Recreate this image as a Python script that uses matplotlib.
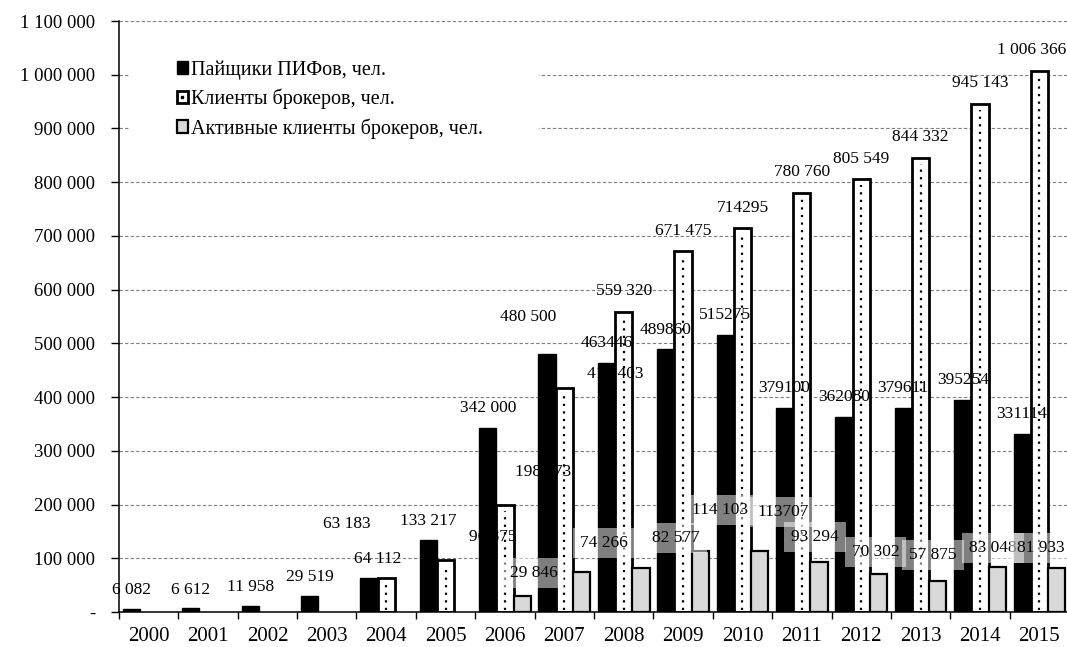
import numpy as np
import matplotlib
matplotlib.use("Agg")
import matplotlib.pyplot as plt
from matplotlib.ticker import FuncFormatter, MultipleLocator
from matplotlib.lines import Line2D
from matplotlib.patches import Rectangle
from matplotlib.legend_handler import HandlerTuple

plt.rcParams['font.family'] = ['Liberation Serif', 'DejaVu Serif']

# data
years = [str(y) for y in range(2000, 2016)]
pif_holders = [6082, 6612, 11958, 29519, 63183, 133217, 342000, 480500,
               463446, 489860, 515275, 379100, 362080, 379611, 395254, 331114]
brok_years_start = 4   # broker clients from 2004
brok_clients = [64112, 96875, 198873, 417403, 559320, 671475, 714295,
                780760, 805549, 844332, 945143, 1006366]
brok_labels = ["64 112", "96 875", "198 873", "417 403", "559 320", "671 475",
               "714295", "780 760", "805 549", "844 332", "945 143", "1 006 366"]
active_years_start = 6  # active clients from 2006
active_clients = [29846, 74266, 82577, 114103, 113707, 93294, 70302, 57875,
                  83048, 81933]
active_labels = ["29 846", "74 266", "82 577", "114 103", "113707", "93 294",
                 "70 302", "57 875", "83 048", "81 933"]
pif_labels = ["6 082", "6 612", "11 958", "29 519", "63 183", "133 217",
              "342 000", "480 500", "463446", "489860", "515275", "379100",
              "362080", "379611", "395254", "331114"]

# label placement tweaks (as in the source chart): dx in categories, dy in people
pif_dx = [0, 0, 0, 0, -0.37, 0, 0, -0.32, 0, 0, 0, 0, 0, 0, 0, 0]
pif_dy = [35e3, 35e3, 34e3, 36e3, 101e3, 36e3, 38e3, 69e3, 38e3, 35e3, 38e3,
          38e3, 38e3, 38e3, 37e3, 38e3]
brok_dx = [-0.15, 0.79, 0.64, 0.86, 0, 0, 0, 0, 0, 0, 0, -0.13]
brok_dy = [35e3, 42e3, 62e3, 26e3, 39e3, 38e3, 38e3, 38e3, 38e3, 39e3, 40e3, 39e3]
act_dx = [0.19, 0.37, 0.59, 0.34, 0.39, -0.07, -0.05, -0.08, -0.07, -0.27]
act_dy = [43e3, 54e3, 55e3, 76e3, 72e3, 47e3, 42e3, 48e3, 36e3, 37e3]

fig = plt.figure(figsize=(10.67, 6.47), dpi=100)
ax = fig.add_axes([0.1115, 0.0541, 0.8904, 0.9134])

x = np.arange(len(years))
w = 0.29
xb = x[brok_years_start:]
xa = x[active_years_start:]

b1 = ax.bar(x - w, pif_holders, w, color='black', edgecolor='black',
            linewidth=1, zorder=2)
b2 = ax.bar(xb, brok_clients, w, color='white', edgecolor='black',
            linewidth=2, zorder=2)
ax.vlines(xb, 4000, np.array(brok_clients) - 10000, colors='black',
          linestyles=(0, (1, 2.4)), linewidth=1.6, zorder=2.5)
b3 = ax.bar(xa + w, active_clients, w, color='#d9d9d9', edgecolor='black',
            linewidth=1.6, zorder=2)

fs = 12.5
for i, v in enumerate(pif_holders):
    ax.text(x[i] - w + pif_dx[i], v + pif_dy[i], pif_labels[i], ha='center',
            va='center', fontsize=fs, zorder=4)
for i, v in enumerate(brok_clients):
    ax.text(xb[i] + brok_dx[i], v + brok_dy[i], brok_labels[i], ha='center',
            va='center', fontsize=fs, zorder=4)
for i, v in enumerate(active_clients):
    ax.text(xa[i] + w + act_dx[i], v + act_dy[i], active_labels[i], ha='center',
            va='center', fontsize=fs, zorder=4,
            bbox=dict(boxstyle='square,pad=0.4', facecolor='white',
                      edgecolor='none', alpha=0.5))

ax.set_xlim(-0.5, 15.5)
ax.set_ylim(0, 1100000)
ax.yaxis.set_major_locator(MultipleLocator(100000))
ax.yaxis.set_major_formatter(FuncFormatter(
    lambda v, p: '-' if v == 0 else f'{int(v):,}'.replace(',', ' ')))
ax.yaxis.grid(True, linestyle=(0, (3, 2)), color='#7f7f7f', linewidth=0.8,
              zorder=0)
ax.set_axisbelow(True)
ax.tick_params(axis='y', length=6, width=1, pad=11, labelsize=13.5)

ax.set_xticks(x)
ax.set_xticklabels(years)
ax.set_xticks(np.arange(-0.5, 16, 1), minor=True)
ax.tick_params(axis='x', which='major', length=0, pad=11, labelsize=15)
ax.tick_params(axis='x', which='minor', length=5, width=1)

for s in ['top', 'right']:
    ax.spines[s].set_visible(False)
for s in ['left', 'bottom']:
    ax.spines[s].set_linewidth(1.1)

# white legend area hiding the grid, as in the source
ax.add_patch(Rectangle((0.012, 0.80), 0.43, 0.15, transform=ax.transAxes,
                       facecolor='white', edgecolor='none', zorder=1))

dot_handle = Line2D([], [], marker='s', markersize=2, color='black',
                    linestyle='none')
leg = ax.legend([b1, (b2, dot_handle), b3],
                ['Пайщики ПИФов, чел.', 'Клиенты брокеров, чел.',
                 'Активные клиенты брокеров, чел.'],
                handler_map={tuple: HandlerTuple(ndivide=1)},
                loc='upper left', bbox_to_anchor=(0.061, 0.934),
                fontsize=14.5, handlelength=0.55, handleheight=0.6,
                handletextpad=0.15, labelspacing=0.45,
                borderpad=0, borderaxespad=0, frameon=False)
leg.set_zorder(5)

fig.savefig('out.png', dpi=100)
